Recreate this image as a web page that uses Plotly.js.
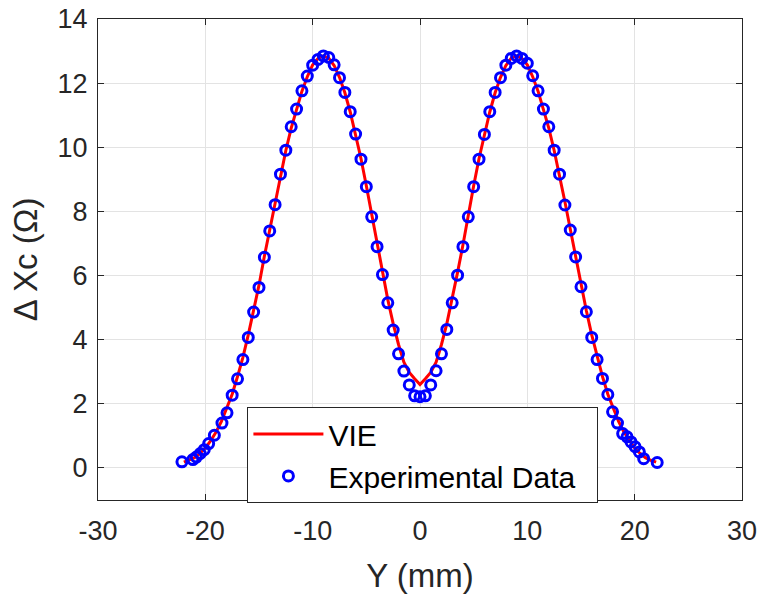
<!DOCTYPE html>
<html>
<head>
<meta charset="utf-8">
<script src="https://cdn.plot.ly/plotly-3.0.1.min.js"></script>
<style>html,body{margin:0;padding:0;background:#fff;}#chart{width:762px;height:596px;}</style>
</head>
<body>
<div id="chart"></div>
<script>
// VIE simulation (line)
const vieX = [-22,-21.5,-21,-20.5,-20,-19.5,-19,-18.5,-18,-17.5,-17,-16.5,-16,-15.5,-15,-14.5,-14,-13.5,-13,-12.5,-12,-11.5,-11,-10.5,-10,-9.5,-9,-8.5,-8,-7.5,-7,-6.5,-6,-5.5,-5,-4.5,-4,-3.5,-3,-2.5,-2,-1.5,-1,-0.5,0,0.5,1,1.5,2,2.5,3,3.5,4,4.5,5,5.5,6,6.5,7,7.5,8,8.5,9,9.5,10,10.5,11,11.5,12,12.5,13,13.5,14,14.5,15,15.5,16,16.5,17,17.5,18,18.5,19,19.5,20,20.5,21,21.5,22];
const vieY = [0.18,0.24,0.32,0.45,0.62,0.85,1.12,1.45,1.85,2.3,2.85,3.45,4.15,4.9,5.7,6.6,7.45,8.3,9.15,9.9,10.6,11.2,11.75,12.2,12.57,12.77,12.85,12.78,12.55,12.18,11.7,11.1,10.42,9.65,8.8,7.9,6.95,6.1,5.25,4.5,3.85,3.3,2.98,2.78,2.6,2.78,2.98,3.3,3.85,4.5,5.25,6.1,6.95,7.9,8.8,9.65,10.42,11.1,11.7,12.18,12.55,12.78,12.85,12.77,12.57,12.2,11.75,11.2,10.6,9.9,9.15,8.3,7.45,6.6,5.7,4.9,4.15,3.45,2.85,2.3,1.85,1.45,1.12,0.85,0.62,0.45,0.32,0.24,0.18];

// Experimental data (markers)
const expX = [-22.18,-21.16,-20.84,-20.47,-20.1,-19.69,-19.16,-18.45,-17.98,-17.5,-17,-16.5,-16,-15.5,-15,-14.5,-14,-13.5,-13,-12.5,-12,-11.5,-11,-10.5,-10,-9.5,-9,-8.5,-8,-7.5,-7,-6.5,-6,-5.5,-5,-4.5,-4,-3.5,-3,-2.5,-2,-1.5,-1,-0.5,0,0.5,1,1.5,2,2.5,3,3.5,4,4.5,5,5.5,6,6.5,7,7.5,8,8.5,9,9.5,10,10.5,11,11.5,12,12.5,13,13.5,14,14.5,15,15.5,16,16.5,17,17.5,17.94,18.4,18.88,19.29,19.66,20.04,20.44,20.84,22.1];
const expY = [0.19,0.26,0.34,0.45,0.57,0.76,1.02,1.40,1.72,2.27,2.78,3.38,4.07,4.86,5.63,6.57,7.39,8.21,9.16,9.91,10.64,11.19,11.76,12.22,12.56,12.74,12.85,12.80,12.57,12.17,11.71,11.11,10.41,9.63,8.77,7.83,6.90,6.03,5.15,4.30,3.56,3.02,2.59,2.25,2.22,2.25,2.59,3.03,3.56,4.32,5.15,6.01,6.90,7.83,8.77,9.63,10.40,11.11,11.71,12.17,12.56,12.77,12.85,12.77,12.62,12.23,11.76,11.19,10.64,9.91,9.16,8.20,7.42,6.58,5.65,4.87,4.07,3.38,2.79,2.29,1.75,1.40,1.07,0.97,0.81,0.66,0.50,0.29,0.17];

const xTicks = [-30,-20,-10,0,10,20,30];
const yTicks = [0,2,4,6,8,10,12,14];

const FONT = 'Liberation Sans, Arial, Helvetica, sans-serif';

const traces = [
  {x: vieX, y: vieY, type: 'scatter', mode: 'lines', name: 'VIE',
   line: {color: '#ff0000', width: 3}},
  {x: expX, y: expY, type: 'scatter', mode: 'markers', name: 'Experimental Data\u00a0\u00a0',
   marker: {symbol: 'circle-open', size: 10, color: '#0000ff', line: {color: '#0000ff', width: 3}}}
];

const axisCommon = {
  showline: true, mirror: 'ticks', linecolor: '#262626', linewidth: 1,
  ticks: 'inside', ticklen: 6, tickcolor: '#262626', tickwidth: 1,
  showgrid: true, gridcolor: '#e3e3e3', gridwidth: 1, zeroline: false,
  tickfont: {family: FONT, size: 27, color: '#262626'}
};

const layout = {
  width: 762, height: 596,
  margin: {l: 98, r: 20, t: 19, b: 96},
  paper_bgcolor: '#ffffff', plot_bgcolor: '#ffffff',
  showlegend: true,
  xaxis: Object.assign({}, axisCommon, {
    range: [-30, 30], tickmode: 'array', tickvals: xTicks, ticktext: xTicks.map(String),
    ticklabelstandoff: 7,
    title: {text: 'Y (mm)', font: {family: FONT, size: 33, color: '#262626'}, standoff: 18}
  }),
  yaxis: Object.assign({}, axisCommon, {
    range: [-1, 14], tickmode: 'array', tickvals: yTicks, ticktext: yTicks.map(String),
    ticklabelstandoff: 4,
    title: {text: 'Δ Xc (Ω)', font: {family: FONT, size: 33, color: '#262626'}, standoff: 10}
  }),
  legend: {
    x: 0.232, y: -0.006, xanchor: 'left', yanchor: 'bottom',
    bgcolor: '#ffffff', bordercolor: '#262626', borderwidth: 1,
    font: {family: FONT, size: 30, color: '#000000'},
    itemwidth: 70, tracegroupgap: 0
  }
};

Plotly.newPlot('chart', traces, layout, {displayModeBar: false, staticPlot: true});
</script>
</body>
</html>
